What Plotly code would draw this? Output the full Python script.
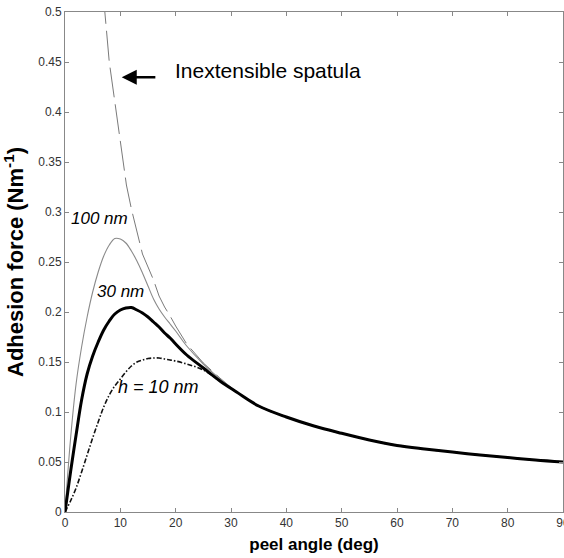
import plotly.graph_objects as go

# ---- data ----
theta_100 = [0, 1, 2, 3, 4, 5, 6, 7, 8, 9, 10, 11, 12, 13, 14, 15, 16, 17, 18, 19, 20, 22, 25, 28, 31, 35, 40, 45, 50, 55, 60, 65, 70, 75, 80, 85, 90]
force_100 = [0, 0.073, 0.128, 0.165, 0.195, 0.22, 0.24, 0.256, 0.267, 0.2735, 0.273, 0.269, 0.261, 0.251, 0.239, 0.226, 0.213, 0.203, 0.195, 0.188, 0.181, 0.166, 0.148, 0.133, 0.12, 0.106, 0.095, 0.086, 0.0787, 0.072, 0.0665, 0.063, 0.06, 0.057, 0.0545, 0.052, 0.05]

theta_30 = [0, 0.5, 1, 2, 3, 4, 5, 6, 7, 8, 9, 10, 11, 12, 13, 14, 15, 16, 17, 18, 19, 20, 22, 25, 28, 31, 35, 40, 45, 50, 55, 60, 65, 70, 75, 80, 85, 90]
force_30 = [0, 0.02, 0.04, 0.077, 0.112, 0.138, 0.156, 0.17, 0.182, 0.191, 0.198, 0.202, 0.204, 0.2045, 0.202, 0.199, 0.195, 0.19, 0.185, 0.179, 0.174, 0.168, 0.157, 0.144, 0.131, 0.12, 0.106, 0.095, 0.086, 0.0787, 0.072, 0.0665, 0.063, 0.06, 0.057, 0.0545, 0.052, 0.05]

theta_10 = [0, 1, 2, 3, 4, 5, 6, 7, 8, 9, 10, 11, 12, 13, 14, 15, 16, 17, 18, 19, 20, 22, 25, 28, 31, 35, 40, 45, 50, 55, 60, 65, 70, 75, 80, 85, 90]
force_10 = [0, 0.011, 0.024, 0.04, 0.057, 0.074, 0.09, 0.105, 0.117, 0.126, 0.133, 0.14, 0.146, 0.15, 0.152, 0.1535, 0.154, 0.154, 0.153, 0.152, 0.151, 0.148, 0.142, 0.131, 0.12, 0.106, 0.095, 0.086, 0.0787, 0.072, 0.0665, 0.063, 0.06, 0.057, 0.0545, 0.052, 0.05]

theta_inext = [6.5, 7, 7.2, 8, 9, 10, 10.6, 11.1, 12, 13, 14, 15, 16, 17, 18, 19, 20, 22, 25, 28, 31, 35, 40, 45, 50, 55, 60, 65, 70, 75, 80, 85, 90]
force_inext = [0.555, 0.515, 0.5, 0.45, 0.41, 0.375, 0.35, 0.327, 0.303, 0.281, 0.258, 0.245, 0.232, 0.216, 0.205, 0.196, 0.186, 0.168, 0.149, 0.134, 0.12, 0.106, 0.095, 0.086, 0.0787, 0.072, 0.0665, 0.063, 0.06, 0.057, 0.0545, 0.052, 0.05]

x_tick_vals = [0, 10, 20, 30, 40, 50, 60, 70, 80, 90]
x_tick_text = ["0", "10", "20", "30", "40", "50", "60", "70", "80", "90"]
y_tick_vals = [0, 0.05, 0.1, 0.15, 0.2, 0.25, 0.3, 0.35, 0.4, 0.45, 0.5]
y_tick_text = ["0", "0.05", "0.1", "0.15", "0.2", "0.25", "0.3", "0.35", "0.4", "0.45", "0.5"]

FONT = "Arial, Liberation Sans, sans-serif"

fig = go.Figure()
fig.add_trace(go.Scatter(x=theta_inext, y=force_inext, mode="lines",
                         line=dict(color="#7a7a7a", width=1, dash="30px,7px"), hoverinfo="skip"))
fig.add_trace(go.Scatter(x=theta_100, y=force_100, mode="lines",
                         line=dict(color="#8a8a8a", width=1.1, shape="spline"), hoverinfo="skip"))
fig.add_trace(go.Scatter(x=theta_10, y=force_10, mode="lines",
                         line=dict(color="#111111", width=1.6, dash="5px,2px,1.5px,2px", shape="spline"), hoverinfo="skip"))
fig.add_trace(go.Scatter(x=theta_30, y=force_30, mode="lines",
                         line=dict(color="#000000", width=3, shape="spline"), hoverinfo="skip"))

axis_common = dict(showgrid=False, zeroline=False, showline=True, linecolor="#888888", linewidth=1,
                   mirror="ticks", ticks="inside", ticklen=4, tickcolor="#888888",
                   ticklabeloverflow="allow",
                   tickfont=dict(family=FONT, size=12, color="#333333"))

fig.update_xaxes(range=[0, 90], tickvals=x_tick_vals, ticktext=x_tick_text,
                 title=dict(text="<b>peel angle (deg)</b>", font=dict(family=FONT, size=17, color="#000"), standoff=8),
                 automargin=False, **axis_common)
fig.update_yaxes(range=[0, 0.5], tickvals=y_tick_vals, ticktext=y_tick_text,
                 title=dict(text="<b>Adhesion force (Nm<sup>-1</sup>)</b>", font=dict(family=FONT, size=22, color="#000"), standoff=9),
                 automargin=False, **axis_common)

fig.add_annotation(x=19.6, y=0.442, text="Inextensible spatula", showarrow=False, xanchor="left", yanchor="middle",
                   font=dict(family=FONT, size=21, color="#000"))
fig.add_annotation(x=10.25, y=0.4347, ax=16.6, ay=0.4347, axref="x", ayref="y", text="", showarrow=True,
                   arrowhead=2, arrowsize=1.2, arrowwidth=2.5, arrowcolor="#000")
ann_font = dict(family=FONT, size=17, color="#000")
fig.add_annotation(x=6.2, y=0.2937, text="<i>100 nm</i>", showarrow=False, font=ann_font)
fig.add_annotation(x=9.94, y=0.2203, text="<i>30 nm</i>", showarrow=False, font=ann_font)
fig.add_annotation(x=16.87, y=0.1253, text="<i>h = 10 nm</i>", showarrow=False, font=dict(family=FONT, size=18, color="#000"))

fig.update_layout(width=564, height=558, showlegend=False,
                  margin=dict(l=65, r=1, t=12, b=46),
                  paper_bgcolor="white", plot_bgcolor="white")

fig.write_html("out.html", config={"displayModeBar": False},
               post_script="document.body.style.margin='0';document.body.style.padding='0';")
